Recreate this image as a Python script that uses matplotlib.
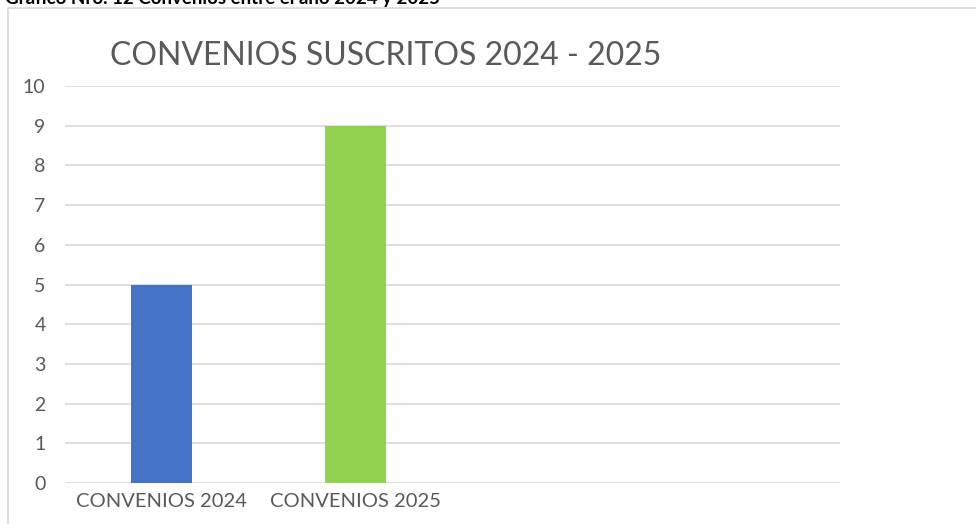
import matplotlib.pyplot as plt
from matplotlib.patches import Rectangle

categories = ["CONVENIOS 2024", "CONVENIOS 2025", "", ""]
values = [5, 9, 0, 0]
colors = ["#4472C4", "#92D050", "none", "none"]
yticks = list(range(0, 11))

plt.rcParams['font.family'] = ['Lato', 'DejaVu Sans']

fig = plt.figure(figsize=(9.76, 5.24), dpi=100)

# outer chart frame
frame = Rectangle((8 / 976, -0.01), 1.0, (524 - 8) / 524 + 0.01,
                  transform=fig.transFigure, fill=False,
                  edgecolor="#D9D9D9", linewidth=1.2)
fig.patches.append(frame)

# caption cut at the top (as in the source page)
fig.text(5 / 976, 1.003, "Gráfico Nro. 12 Convenios entre el año 2024 y 2025",
         fontsize=13.5, fontweight="bold", color="black", va="center", ha="left")

ax = fig.add_axes([65 / 976, 41 / 524, 775 / 976, 397 / 524])
x = range(len(categories))
ax.bar(x, values, width=0.315, color=colors, zorder=3)

ax.set_xlim(-0.5, 3.5)
ax.set_ylim(0, 10)
ax.set_yticks(yticks)
ax.set_xticks([0, 1])
ax.set_xticklabels(categories[:2])
ax.grid(axis="y", color="#D9D9D9", linewidth=1.2, zorder=0)
for s in ax.spines.values():
    s.set_visible(False)
ax.tick_params(axis="both", length=0, labelsize=14, labelcolor="#595959")
ax.tick_params(axis="x", labelsize=14.5)
ax.tick_params(axis="y", pad=14)
ax.tick_params(axis="x", pad=7)

fig.text(110 / 976, (524 - 56) / 524, "CONVENIOS SUSCRITOS 2024 - 2025",
         fontsize=23, color="#595959", va="center", ha="left")

fig.savefig("out.png", dpi=100)
